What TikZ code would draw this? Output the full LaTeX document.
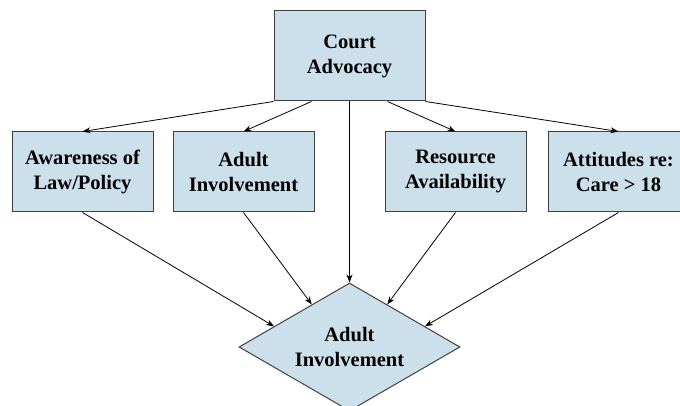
\documentclass[tikz,border=0pt]{standalone}
\usepackage{fontspec}
\setmainfont{Liberation Serif}
\usetikzlibrary{
  shapes.geometric,
  calc,
  arrows.meta,
}
\definecolor{boxfill}{RGB}{204,224,236}
\definecolor{boxline}{RGB}{64,64,64}

\begin{document}
\begin{tikzpicture}[x=1pt,y=1pt,
  box/.style={draw=boxline, line width=1pt, fill=boxfill, align=center,
    font=\bfseries\fontsize{20.5}{25}\selectfont, inner sep=0pt},
  link/.style={line width=0.8pt, -{Stealth[length=8pt,width=6pt]}},
]
\useasboundingbox (0,0) rectangle (680,406);
\node[box, minimum width=151pt, minimum height=90pt] (court) at (349.5,350) {Court\\Advocacy};
\foreach \n/\x/\t in {aw/82.5/{Awareness of\\Law/Policy}, adult/243.5/{Adult\\Involvement},
  res/455.5/{Resource\\Availability}, att/618.5/{Attitudes re:\\Care > 18}} {
  \node[box, minimum width=141pt, minimum height=80pt] (\n) at (\x,234) {\t};
}
\node[box, diamond, aspect=1.73, minimum width=221pt, minimum height=128pt] (dia) at (349.5,59) {Adult\\Involvement};
\foreach \n/\f in {aw/0, adult/0.25, res/0.75, att/1} {
  \draw[link] ($(court.south west)!\f!(court.south east)$) -- (\n.north);
}
\draw[link] (court.south) -- (dia.north);
\foreach \n/\s/\f in {aw/west/0.32, adult/west/0.66, res/east/0.66, att/east/0.32} {
  \draw[link] (\n.south) -- ($(dia.\s)!\f!(dia.north)$);
}
\end{tikzpicture}
\end{document}
